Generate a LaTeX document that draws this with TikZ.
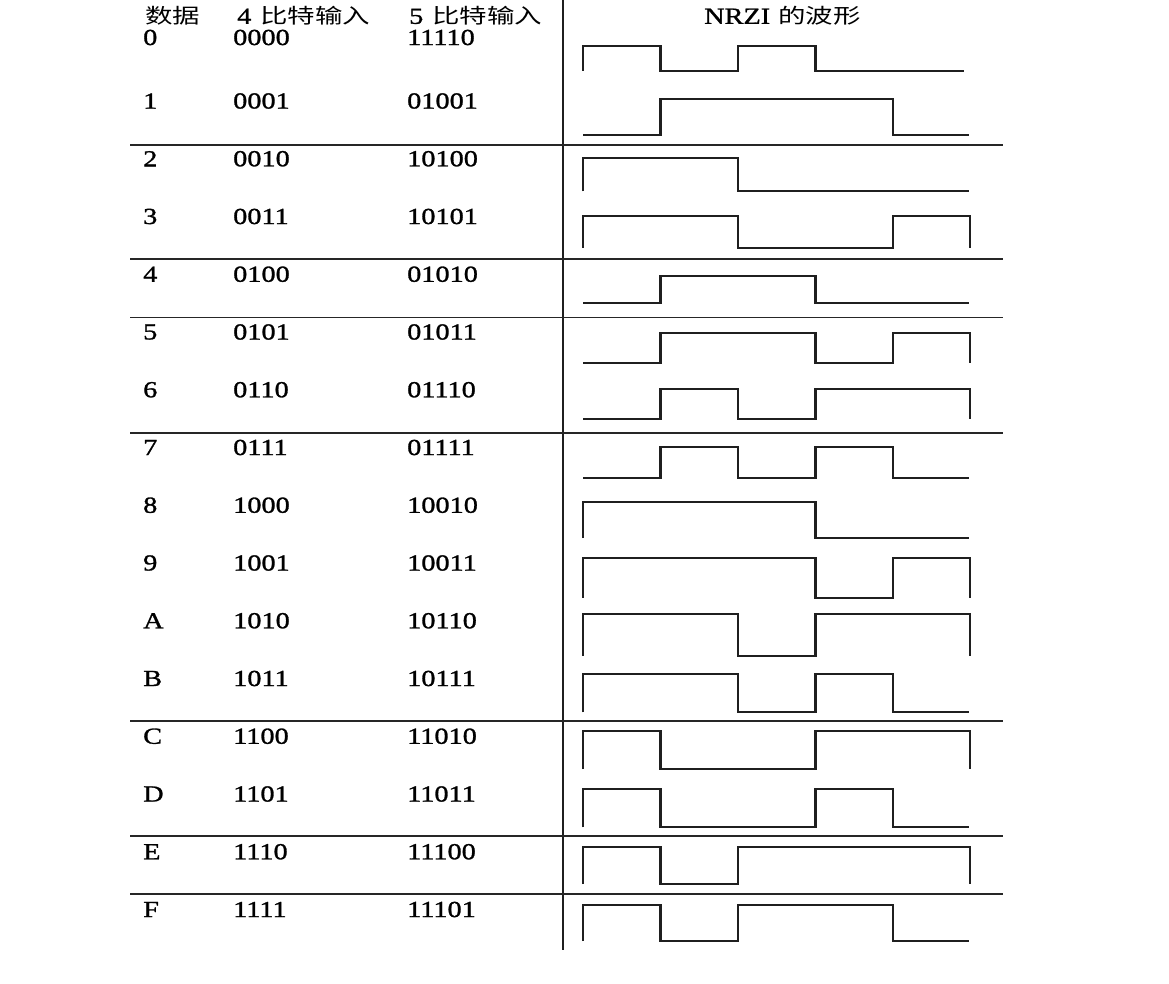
\documentclass[tikz,border=0pt]{standalone}
\usepackage{fontspec}
\setmainfont{Liberation Serif}[FakeStretch=1.23,FakeBold=1.2]
\newfontfamily\cjk{Noto Sans CJK SC}[FakeStretch=1.34]
\begin{document}
\begin{tikzpicture}[x=1pt,y=-1pt,
  txt/.style={anchor=west,inner sep=0pt,font=\fontsize{23}{27}\selectfont},
  hdr/.style={anchor=west,inner sep=0pt,font=\fontsize{20.5}{24}\selectfont},
  wave/.style={line width=2.2pt,line join=miter,line cap=butt,color=black!88},
  rule/.style={line width=1.8pt,color=black!85},
  wv/.style n args={2}{shift={(0,#1)},yscale=#2}]
\useasboundingbox (0,0) rectangle (1169,984);
% header
\node[hdr] (h1) at (145,16) {\cjk 数据};
\node[hdr] (h2) at (237,16) {\fontsize{23}{27}\selectfont 4\hspace{9pt}\fontsize{20.5}{24}\selectfont\cjk 比特输入};
\node[hdr] (h3) at (409,16) {\fontsize{23}{27}\selectfont 5\hspace{9pt}\fontsize{20.5}{24}\selectfont\cjk 比特输入};
\node[hdr] (h4) at (704,16) {\fontsize{23}{27}\selectfont NRZI\hspace{8pt}\fontsize{20.5}{24}\selectfont\cjk 的波形};
% rows
\foreach \lab/\four/\five/\yy in {
  0/0000/11110/37.5, 1/0001/01001/101, 2/0010/10100/158.75, 3/0011/10101/216.5,
  4/0100/01010/274.25, 5/0101/01011/332, 6/0110/01110/389.75, 7/0111/01111/447.5,
  8/1000/10010/505.25, 9/1001/10011/563, A/1010/10110/620.75, B/1011/10111/678.5,
  C/1100/11010/736.25, D/1101/11011/794, E/1110/11100/851.75, F/1111/11101/909.5}{
  \node[txt] (d\lab) at (143,\yy) {\lab};
  \node[txt] (f\lab) at (233,\yy) {\four};
  \node[txt] (g\lab) at (407,\yy) {\five};
}
% rules
\draw[line width=2.4pt,color=black!88] (563,0) -- (563,950);
\foreach \yy in {144.7,259,317.5,432.7,720.7,836,894}
  \draw[rule] (130,\yy) -- (1003,\yy);
% waveforms: v=0 high, v=1 low
\def\xa{583}\def\xb{660.5}\def\xc{738}\def\xd{815.5}\def\xe{893}\def\xf{970}
\begin{scope}[wv={45.7}{25.3}]
\draw[wave] (\xa,1)--(\xa,0)--(\xb,0)--(\xb,1)--(\xc,1)--(\xc,0)--(\xd,0)--(\xd,1)--(964,1);
\end{scope}
\begin{scope}[wv={99.3}{35.7}]
\draw[wave] (\xa,1)--(\xb,1)--(\xb,0)--(\xe,0)--(\xe,1)--(969,1);
\end{scope}
\begin{scope}[wv={157.7}{33.6}]
\draw[wave] (\xa,1)--(\xa,0)--(\xc,0)--(\xc,1)--(969,1);
\end{scope}
\begin{scope}[wv={216}{31.7}]
\draw[wave] (\xa,1)--(\xa,0)--(\xc,0)--(\xc,1)--(\xe,1)--(\xe,0)--(\xf,0)--(\xf,1);
\end{scope}
\begin{scope}[wv={276}{27.3}]
\draw[wave] (\xa,1)--(\xb,1)--(\xb,0)--(\xd,0)--(\xd,1)--(969,1);
\end{scope}
\begin{scope}[wv={332.7}{30}]
\draw[wave] (\xa,1)--(\xb,1)--(\xb,0)--(\xd,0)--(\xd,1)--(\xe,1)--(\xe,0)--(\xf,0)--(\xf,1);
\end{scope}
\begin{scope}[wv={389.3}{29.7}]
\draw[wave] (\xa,1)--(\xb,1)--(\xb,0)--(\xc,0)--(\xc,1)--(\xd,1)--(\xd,0)--(\xf,0)--(\xf,1);
\end{scope}
\begin{scope}[wv={447}{31}]
\draw[wave] (\xa,1)--(\xb,1)--(\xb,0)--(\xc,0)--(\xc,1)--(\xd,1)--(\xd,0)--(\xe,0)--(\xe,1)--(969,1);
\end{scope}
\begin{scope}[wv={502}{36}]
\draw[wave] (\xa,1)--(\xa,0)--(\xd,0)--(\xd,1)--(969,1);
\end{scope}
\begin{scope}[wv={557.7}{40}]
\draw[wave] (\xa,1)--(\xa,0)--(\xd,0)--(\xd,1)--(\xe,1)--(\xe,0)--(\xf,0)--(\xf,1);
\end{scope}
\begin{scope}[wv={614}{41.7}]
\draw[wave] (\xa,1)--(\xa,0)--(\xc,0)--(\xc,1)--(\xd,1)--(\xd,0)--(\xf,0)--(\xf,1);
\end{scope}
\begin{scope}[wv={674}{38.3}]
\draw[wave] (\xa,1)--(\xa,0)--(\xc,0)--(\xc,1)--(\xd,1)--(\xd,0)--(\xe,0)--(\xe,1)--(969,1);
\end{scope}
\begin{scope}[wv={730.7}{38.3}]
\draw[wave] (\xa,1)--(\xa,0)--(\xb,0)--(\xb,1)--(\xd,1)--(\xd,0)--(\xf,0)--(\xf,1);
\end{scope}
\begin{scope}[wv={789}{38.3}]
\draw[wave] (\xa,1)--(\xa,0)--(\xb,0)--(\xb,1)--(\xd,1)--(\xd,0)--(\xe,0)--(\xe,1)--(969,1);
\end{scope}
\begin{scope}[wv={847}{37}]
\draw[wave] (\xa,1)--(\xa,0)--(\xb,0)--(\xb,1)--(\xc,1)--(\xc,0)--(\xf,0)--(\xf,1);
\end{scope}
\begin{scope}[wv={905}{36}]
\draw[wave] (\xa,1)--(\xa,0)--(\xb,0)--(\xb,1)--(\xc,1)--(\xc,0)--(\xe,0)--(\xe,1)--(969,1);
\end{scope}
\end{tikzpicture}
\end{document}
